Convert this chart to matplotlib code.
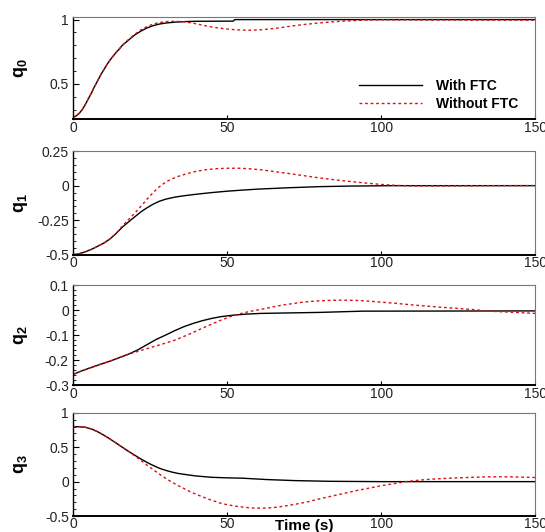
import matplotlib.pyplot as plt

plt.rcParams['font.family'] = ['Liberation Sans', 'DejaVu Sans']
plt.rcParams['mathtext.fontset'] = 'custom'
plt.rcParams['mathtext.bf'] = 'Liberation Sans:bold'
plt.rcParams['mathtext.rm'] = 'Liberation Sans'

# q0
t0_ftc = [0, 1, 2, 3, 4, 5, 6, 7, 8, 9, 10, 11, 12, 13, 14, 15, 16, 17, 18, 19, 20,
          22, 24, 26, 28, 30, 33, 36, 40, 52, 52.5, 100, 150]
q0_ftc = [0.24, 0.25, 0.27, 0.30, 0.34, 0.385, 0.43, 0.48, 0.525, 0.57, 0.61, 0.65, 0.685,
          0.715, 0.745, 0.77, 0.80, 0.82, 0.84, 0.86, 0.88,
          0.91, 0.935, 0.953, 0.965, 0.973, 0.98, 0.984, 0.987, 0.988, 1.0, 1.0, 1.0]
t0_nof = [0, 1, 2, 3, 4, 5, 6, 7, 8, 9, 10, 11, 12, 13, 14, 15, 16, 17, 18, 20, 22, 24, 26,
          28, 30, 33, 36, 39, 42, 45, 48, 51, 54, 57, 60, 63, 67, 71, 75, 80, 85, 90, 95,
          100, 110, 150]
q0_nof = [0.24, 0.25, 0.27, 0.30, 0.34, 0.385, 0.43, 0.48, 0.525, 0.57, 0.61, 0.65, 0.685,
          0.715, 0.745, 0.772, 0.80, 0.823, 0.845, 0.885, 0.92, 0.945, 0.965,
          0.977, 0.984, 0.987, 0.983, 0.972, 0.957, 0.943, 0.932, 0.924, 0.919, 0.917,
          0.919, 0.925, 0.936, 0.95, 0.962, 0.974, 0.984, 0.991, 0.996,
          0.998, 0.997, 0.995]

# q1
t1_ftc = [0, 2, 4, 6, 8, 10, 12, 14, 16, 18, 20, 22, 24, 26, 28, 30, 33, 36, 40, 45, 50,
          55, 60, 70, 80, 90, 104, 150]
q1_ftc = [-0.5, -0.492, -0.478, -0.46, -0.438, -0.415, -0.385, -0.345, -0.3, -0.262,
          -0.226, -0.19, -0.16, -0.134, -0.113, -0.098, -0.083, -0.073, -0.062, -0.05,
          -0.04, -0.032, -0.025, -0.015, -0.007, -0.003, 0.0, 0.0]
t1_nof = [0, 2, 4, 6, 8, 10, 12, 14, 16, 18, 20, 22, 24, 26, 28, 30, 32, 34, 37, 40, 43,
          46.7, 50, 54, 58, 62, 66, 70, 75, 80, 85, 90, 95, 100, 105, 110, 120, 135, 150]
q1_nof = [-0.5, -0.492, -0.478, -0.46, -0.438, -0.415, -0.385, -0.345, -0.292, -0.245,
          -0.2, -0.15, -0.098, -0.05, -0.008, 0.025, 0.048, 0.066, 0.087, 0.104, 0.115,
          0.123, 0.126, 0.126, 0.121, 0.112, 0.1, 0.088, 0.072, 0.056, 0.042, 0.03,
          0.019, 0.009, 0.002, -0.002, -0.002, 0.0, 0.001]

# q2
t2_ftc = [0, 3, 6, 9, 12, 15, 18, 21, 24, 27, 30, 33, 36, 39, 42, 45, 48, 52, 56, 61, 80,
          94, 150]
q2_ftc = [-0.257, -0.242, -0.229, -0.216, -0.204, -0.19, -0.176, -0.159, -0.138, -0.117,
          -0.1, -0.082, -0.066, -0.053, -0.042, -0.033, -0.026, -0.02, -0.016, -0.013,
          -0.009, -0.004, -0.003]
t2_nof = [0, 3, 6, 9, 12, 15, 18, 21, 24, 27, 30, 33, 36, 39, 42, 45, 48, 51, 54, 57, 60,
          63, 66, 70, 74, 78, 83, 87, 92, 96, 100, 105, 110, 115, 120, 126, 131, 135, 140,
          145, 150]
q2_nof = [-0.257, -0.242, -0.229, -0.216, -0.204, -0.19, -0.176, -0.165, -0.154, -0.143,
          -0.132, -0.12, -0.105, -0.089, -0.072, -0.056, -0.04, -0.026, -0.015, -0.006,
          0.001, 0.008, 0.016, 0.024, 0.031, 0.036, 0.039, 0.04, 0.039, 0.036, 0.032,
          0.027, 0.021, 0.016, 0.011, 0.006, 0.001, -0.004, -0.007, -0.01, -0.013]

# q3
t3_ftc = [0, 2, 4, 6, 8, 10, 12, 14, 16, 18, 20, 22, 24, 26, 28, 30, 32, 34, 37, 40, 45,
          50, 55, 63, 72, 83, 100, 150]
q3_ftc = [0.8, 0.798, 0.79, 0.765, 0.725, 0.675, 0.62, 0.56, 0.5, 0.44, 0.385, 0.33,
          0.28, 0.235, 0.195, 0.165, 0.14, 0.12, 0.1, 0.082, 0.063, 0.055, 0.05, 0.03,
          0.015, 0.005, 0.0, 0.0]
t3_nof = [0, 2, 4, 6, 8, 10, 12, 14, 16, 18, 20, 22, 24, 26, 28, 30, 32, 34, 36, 38, 40,
          42, 44, 46, 48, 50, 53, 56, 59, 62, 65, 68, 72, 76, 80, 84, 88, 92, 96, 100,
          104, 108, 112, 116, 122, 128, 134, 142, 150]
q3_nof = [0.8, 0.798, 0.79, 0.765, 0.725, 0.675, 0.62, 0.56, 0.5, 0.44, 0.375, 0.31,
          0.24, 0.175, 0.11, 0.05, -0.005, -0.055, -0.1, -0.145, -0.185, -0.22, -0.255,
          -0.285, -0.315, -0.335, -0.358, -0.375, -0.385, -0.385, -0.377, -0.36, -0.33,
          -0.295, -0.25, -0.21, -0.17, -0.13, -0.095, -0.06, -0.03, 0.0, 0.02, 0.035,
          0.05, 0.06, 0.07, 0.07, 0.06]

series = [
    (t0_ftc, q0_ftc, t0_nof, q0_nof, (0.225, 1.02), [0.5, 1], ['0.5', '1'], 0),
    (t1_ftc, q1_ftc, t1_nof, q1_nof, (-0.5, 0.25), [-0.5, -0.25, 0, 0.25], ['-0.5', '-0.25', '0', '0.25'], 1),
    (t2_ftc, q2_ftc, t2_nof, q2_nof, (-0.3, 0.1), [-0.3, -0.2, -0.1, 0, 0.1], ['-0.3', '-0.2', '-0.1', '0', '0.1'], 2),
    (t3_ftc, q3_ftc, t3_nof, q3_nof, (-0.5, 1.0), [-0.5, 0, 0.5, 1], ['-0.5', '0', '0.5', '1'], 3),
]

# [bottom, top] in figure fraction
boxes = [(0.776, 0.968), (0.521, 0.716), (0.276, 0.464), (0.030, 0.224)]

fig = plt.figure(figsize=(5.45, 5.32), dpi=100)
left, right = 0.134, 0.982

for (tf, qf, tn, qn, ylim, yt, ytl, k), (b, t) in zip(series, boxes):
    ax = fig.add_axes([left, b, right - left, t - b])
    ax.plot(tf, qf, color='black', lw=1.0, label='With FTC')
    ax.plot(tn, qn, color='#dd1111', lw=1.0, ls=(0, (2, 2)), label='Without FTC')
    ax.set_xlim(0, 150)
    ax.set_ylim(*ylim)
    ax.set_xticks([0, 50, 100, 150])
    ax.set_yticks(yt)
    ax.set_yticklabels(ytl)
    ax.minorticks_on()
    ax.tick_params(axis='x', which='minor', bottom=False)
    ax.tick_params(which='both', direction='in', top=False, right=False,
                   labelsize=10, labelcolor='#222222')
    ax.tick_params(axis='x', which='major', length=3, pad=1)
    ax.tick_params(axis='y', which='major', length=4, pad=3)
    ax.tick_params(axis='y', which='minor', length=2)
    for s in ['top', 'right']:
        ax.spines[s].set_color('#777777')
    ax.spines['bottom'].set_linewidth(1.4)
    ax.spines['left'].set_linewidth(1.0)
    ax.set_ylabel(r'$\mathbf{q_%d}$' % k, fontsize=13)
    ax.yaxis.set_label_coords(-0.093, 0.5)
    if k == 0:
        ax.legend(loc='lower right', bbox_to_anchor=(0.99, -0.04), frameon=False,
                  handlelength=4.5, prop={'weight': 'bold', 'size': 10},
                  labelspacing=0.3, handletextpad=1.0)
    if k == 3:
        ax.set_xlabel('Time (s)', fontsize=11, fontweight='bold')
        ax.xaxis.set_label_coords(0.5, -0.03)

fig.savefig('out.png', dpi=100)
